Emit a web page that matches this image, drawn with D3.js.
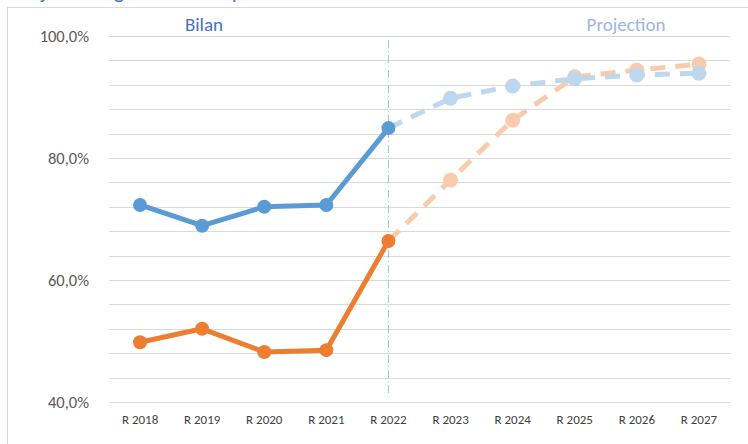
<!DOCTYPE html>
<html>
<head>
<meta charset="utf-8">
<script src="https://cdn.jsdelivr.net/npm/d3@7"></script>
<style>
  body { margin: 0; background: #fff; }
  svg text { font-family: Carlito, 'Liberation Sans Narrow', 'Open Sans', sans-serif; }
</style>
</head>
<body>
<div id="chart"></div>
<script>
const years = ['R 2018', 'R 2019', 'R 2020', 'R 2021', 'R 2022', 'R 2023', 'R 2024', 'R 2025', 'R 2026', 'R 2027'];
const blueValues = [72.3, 68.9, 72.0, 72.3, 84.9, 89.8, 91.8, 93.0, 93.6, 93.9];
const orangeValues = [49.8, 52.0, 48.2, 48.5, 66.4, 76.4, 86.2, 93.3, 94.4, 95.4];
const yTicks = [40, 60, 80, 100];
const gridStep = 4;
const splitIndex = 4; // last "Bilan" year

const w = 748, h = 444;
const padLeft = 109, padRight = 730, padTop = 36, padBottom = 402;

const svg = d3.select('#chart').append('svg')
  .attr('width', w)
  .attr('height', h);

// chart frame + title (cut off by the top edge, as in the source)
svg.append('line').attr('x1', 7).attr('x2', w).attr('y1', 7.5).attr('y2', 7.5)
  .attr('stroke', '#d9d9d9');
svg.append('line').attr('x1', 7.5).attr('x2', 7.5).attr('y1', 7).attr('y2', h)
  .attr('stroke', '#d9d9d9');
svg.append('text').attr('x', 14).attr('y', -2)
  .attr('fill', '#4472c4').attr('font-size', 22)
  .text('Trajectoire globale de la performance');

const xScale = d3.scaleBand().domain(years).range([padLeft, padRight]);
const yScale = d3.scaleLinear().domain([40, 100]).range([padBottom, padTop]);
const cx = (d, i) => xScale(years[i]) + xScale.bandwidth() / 2;

// gridlines
svg.append('g')
  .selectAll('line')
  .data(d3.range(40, 100.1, gridStep))
  .enter().append('line')
  .attr('x1', padLeft).attr('x2', padRight)
  .attr('y1', d => Math.round(yScale(d)) + 0.5)
  .attr('y2', d => Math.round(yScale(d)) + 0.5)
  .attr('stroke', '#d9d9d9')
  .attr('stroke-width', 1.2);

// y axis labels
const yAxis = d3.axisLeft(yScale)
  .tickValues(yTicks)
  .tickSize(0)
  .tickPadding(20)
  .tickFormat(d => d3.format('.1f')(d).replace('.', ',') + '%');
const gy = svg.append('g').attr('transform', `translate(${padLeft},0)`).call(yAxis);
gy.select('.domain').remove();
gy.selectAll('text').attr('font-size', 16.5).attr('fill', '#595959')
  .attr('font-family', "Carlito, 'Liberation Sans Narrow', 'Open Sans', sans-serif");

// x axis labels
const xAxis = d3.axisBottom(xScale).tickSize(0).tickPadding(13);
const gx = svg.append('g').attr('transform', `translate(0,${padBottom})`).call(xAxis);
gx.select('.domain').remove();
gx.selectAll('text').attr('font-size', 13).attr('fill', '#404040')
  .attr('font-family', "Carlito, 'Liberation Sans Narrow', 'Open Sans', sans-serif");

// separator
const sepX = xScale(years[splitIndex]) + xScale.bandwidth() / 2;
svg.append('line')
  .attr('x1', sepX).attr('x2', sepX)
  .attr('y1', 40).attr('y2', 395)
  .attr('stroke', '#9dc3e6')
  .attr('stroke-width', 1)
  .attr('stroke-dasharray', '8,3,1,3');

// section labels
svg.append('text').attr('x', 204).attr('y', 31).attr('text-anchor', 'middle')
  .attr('font-size', 19).attr('fill', '#4472c4').text('Bilan');
svg.append('text').attr('x', 626).attr('y', 31).attr('text-anchor', 'middle')
  .attr('font-size', 19).attr('fill', '#9db4e2').text('Projection');

const line = d3.line()
  .x(d => d.x)
  .y(d => yScale(d.v));

function drawSeries(values, solid, light) {
  const pts = values.map((v, i) => ({ x: cx(v, i), v, i }));
  const past = pts.slice(0, splitIndex + 1);
  const future = pts.slice(splitIndex);

  svg.append('path').datum(future)
    .attr('d', line)
    .attr('fill', 'none')
    .attr('stroke', light)
    .attr('stroke-width', 5)
    .attr('stroke-dasharray', '15,10');
  svg.selectAll(null).data(future.slice(1)).enter().append('circle')
    .attr('cx', d => d.x).attr('cy', d => yScale(d.v))
    .attr('r', 7.5).attr('fill', light);

  svg.append('path').datum(past)
    .attr('d', line)
    .attr('fill', 'none')
    .attr('stroke', solid)
    .attr('stroke-width', 5)
    .attr('stroke-linejoin', 'round');
  svg.selectAll(null).data(past).enter().append('circle')
    .attr('cx', d => d.x).attr('cy', d => yScale(d.v))
    .attr('r', 7).attr('fill', solid);
}

drawSeries(orangeValues, '#ed7d31', '#f8cbad');
drawSeries(blueValues, '#5b9bd5', '#bdd7ee');
</script>
</body>
</html>
